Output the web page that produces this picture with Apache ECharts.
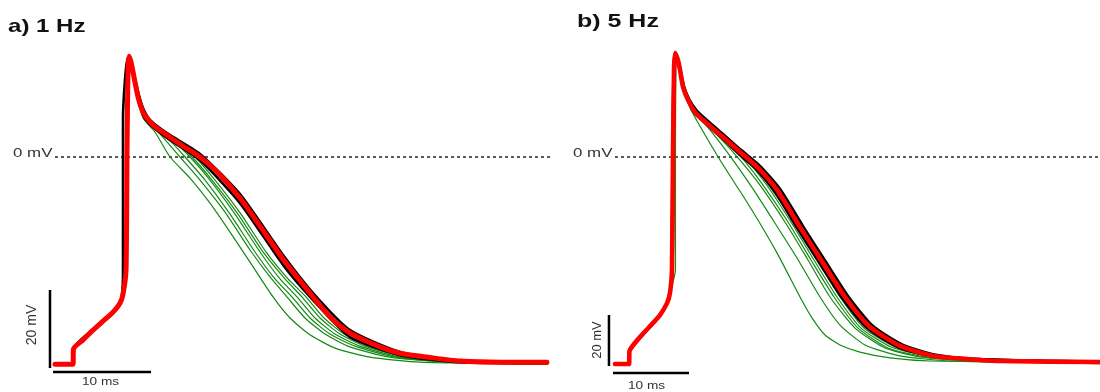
<!DOCTYPE html>
<html>
<head>
<meta charset="utf-8">
<script src="https://cdn.jsdelivr.net/npm/echarts/dist/echarts.min.js"></script>
<style>
  html, body { margin: 0; padding: 0; background: #ffffff; }
  #chart { width: 1100px; height: 392px; }
</style>
</head>
<body>
<div id="chart"></div>
<script>
// Action potential traces: each point is [time (ms), membrane potential (mV)].

// ---- a) 1 Hz pacing ----
const red1Hz = [[1.53,-53.0],[3.37,-53.0],[3.42,-49.1],[4.39,-46.8],[5.41,-44.3],[6.43,-42.0],[7.45,-39.7],[8.16,-37.4],[8.47,-35.1],[8.78,-28.9],[8.88,1.8],[8.98,22.3],[9.08,25.8],[9.29,24.3],[9.59,20.5],[10.0,15.4],[10.51,11.5],[11.22,9.0],[12.04,7.2],[12.96,5.6],[14.59,2.8],[16.33,0],[18.06,-3.8],[20.41,-10.5],[22.45,-17.7],[24.8,-26.1],[27.86,-35.8],[29.9,-41.7],[31.63,-45.0],[34.69,-48.6],[36.73,-50.2],[40.1,-51.4],[42.86,-52.2],[46.94,-52.5],[51.73,-52.5]];
const blackA1Hz = [[1.53,-53.0],[3.37,-53.0],[3.42,-49.4],[5.41,-44.5],[7.45,-40.0],[8.16,-37.6],[8.37,-35.3],[8.47,-30.0],[8.47,10.0],[8.93,25.4],[9.29,23.3],[9.59,19.5],[10.0,14.8],[10.51,10.7],[11.22,8.3],[12.96,4.9],[16.33,-0.8],[20.41,-11.8],[24.8,-27.6],[27.86,-36.6],[31.63,-46.1],[36.73,-50.7],[42.86,-52.5],[51.73,-52.7]];
const blackB1Hz = [[1.53,-53.0],[3.37,-53.0],[3.42,-49.0],[5.41,-44.1],[7.45,-39.5],[8.16,-37.2],[8.47,-34.8],[8.78,-30.0],[8.9,10.0],[9.0,24.0],[9.12,26.0],[9.35,24.2],[9.7,20.0],[10.1,15.8],[10.6,12.0],[11.22,9.5],[12.96,6.1],[16.33,0.8],[20.41,-9.5],[24.8,-25.1],[27.86,-34.8],[31.63,-44.3],[36.73,-49.9],[42.86,-52.2],[51.73,-52.5]];
const greenA1Hz = [[9.08,25.6],[9.29,23.3],[9.69,19.2],[10.1,14.6],[10.51,10.0],[11.73,6.4],[13.27,0],[15.31,-5.4],[17.35,-11.8],[19.39,-19.2],[21.43,-26.9],[23.78,-35.8],[25.51,-41.2],[27.55,-45.5],[30.1,-48.9],[33.67,-51.2],[38.78,-52.5],[51.73,-53.0]];
const greenB1Hz = [[9.08,25.6],[9.29,23.5],[9.69,19.5],[10.1,15.0],[10.51,10.5],[12.24,5.9],[14.29,0],[16.33,-5.9],[18.88,-14.1],[21.43,-23.8],[23.47,-30.7],[25.2,-35.8],[27.04,-41.2],[29.08,-45.3],[31.63,-48.6],[35.71,-51.2],[41.84,-52.5],[51.73,-53.0]];
const greenC1Hz = [[9.08,25.6],[9.29,23.5],[9.69,19.5],[10.1,15.0],[10.71,10.5],[12.76,5.6],[14.8,0],[16.84,-5.9],[19.39,-14.6],[21.94,-24.3],[23.98,-31.2],[25.71,-35.8],[27.55,-41.2],[29.59,-45.3],[32.14,-48.4],[36.22,-51.2],[41.84,-52.5],[51.73,-53.0]];
const greenD1Hz = [[9.08,25.6],[9.29,23.6],[9.69,19.6],[10.1,15.1],[11.22,9.0],[13.27,4.9],[15.31,0],[17.35,-5.9],[19.9,-14.6],[22.45,-24.3],[24.49,-31.2],[26.22,-35.8],[28.06,-41.2],[30.1,-45.3],[32.65,-48.4],[36.73,-51.2],[42.35,-52.5],[51.73,-53.0]];
const greenE1Hz = [[9.08,25.6],[9.29,23.6],[9.69,19.7],[10.1,15.2],[11.22,8.7],[13.47,4.6],[15.51,0],[17.55,-5.9],[20.2,-14.6],[22.76,-24.3],[25.0,-31.2],[26.73,-35.8],[28.57,-41.2],[30.61,-45.3],[33.16,-48.4],[37.24,-51.2],[42.86,-52.5],[51.73,-53.0]];
const greenF1Hz = [[9.08,25.6],[9.29,23.6],[9.69,19.7],[10.1,15.2],[11.43,8.4],[13.78,4.4],[15.82,0],[17.86,-5.9],[20.51,-14.6],[23.06,-24.3],[25.31,-31.2],[27.14,-35.8],[28.98,-41.2],[31.02,-45.3],[33.67,-48.4],[37.76,-51.2],[43.37,-52.5],[51.73,-53.0]];

// ---- b) 5 Hz pacing ----
const red5Hz = [[1.97,-81.2],[3.82,-81.2],[3.88,-76.1],[5.26,-70.6],[6.97,-65.1],[7.89,-62.0],[8.82,-57.3],[9.21,-53.3],[9.47,-44.3],[9.61,2.7],[9.74,34.1],[9.87,40.8],[10.26,38.0],[10.53,34.1],[10.92,27.5],[11.58,22.4],[12.5,17.6],[13.55,14.5],[16.18,7.8],[18.42,2.0],[20.66,-3.9],[23.29,-12.9],[26.32,-27.5],[29.34,-41.6],[32.24,-54.9],[35.53,-66.7],[39.47,-74.1],[43.82,-78.0],[48.29,-79.2],[52.63,-80.0],[65.79,-80.4]];
const blackA5Hz = [[1.97,-81.2],[3.82,-81.2],[3.88,-76.1],[5.26,-70.6],[6.97,-65.1],[7.89,-62.0],[8.82,-57.3],[9.21,-53.3],[9.54,-44.3],[9.67,2.7],[9.8,34.0],[9.93,41.2],[10.53,34.9],[11.05,27.8],[11.71,22.8],[12.63,18.6],[13.68,15.5],[16.18,9.0],[18.42,3.1],[21.05,-3.5],[23.68,-12.5],[26.71,-27.1],[29.74,-41.2],[32.63,-54.5],[35.92,-66.3],[39.87,-73.7],[44.21,-77.6],[48.68,-79.2],[65.79,-80.2]];
const blackB5Hz = [[1.97,-81.2],[3.82,-81.2],[3.88,-76.6],[5.26,-71.0],[6.97,-65.5],[8.82,-57.7],[9.21,-53.7],[9.41,-44.0],[9.54,3.0],[9.67,34.0],[9.8,40.4],[10.26,37.6],[10.92,27.1],[11.58,21.8],[12.5,17.0],[13.55,14.1],[16.18,7.1],[18.42,0.8],[20.39,-4.3],[23.03,-13.7],[25.92,-27.8],[28.95,-42.0],[31.84,-55.3],[35.13,-67.1],[39.47,-74.9],[44.21,-78.4],[65.79,-80.8]];
const greenA5Hz = [[9.87,40.8],[10.53,34.1],[10.92,27.5],[11.58,22.0],[11.97,18.4],[15.79,-1.2],[19.74,-19.6],[23.29,-37.6],[26.32,-54.9],[27.89,-63.1],[29.61,-69.8],[31.58,-73.7],[34.21,-76.5],[38.16,-78.8],[43.42,-80.0],[65.79,-80.8]];
const greenB5Hz = [[9.87,40.8],[10.53,34.1],[10.92,27.5],[11.58,22.0],[12.5,17.2],[14.47,10.6],[17.5,-1.2],[20.13,-12.5],[22.76,-24.7],[25.92,-39.6],[28.95,-54.9],[31.58,-65.9],[34.87,-73.7],[39.47,-78.0],[46.05,-80.0],[65.79,-80.8]];
const greenC5Hz = [[8.82,-57.3],[9.21,-53.3],[9.93,-44.3],[9.93,2.7],[10.0,38.0],[10.13,40.0],[10.53,34.5],[10.92,27.9],[11.58,22.2],[13.16,15.3],[15.79,7.5],[18.42,-1.2],[21.05,-11.0],[24.34,-25.5],[27.37,-40.4],[30.26,-54.9],[33.55,-67.1],[37.5,-74.9],[42.11,-78.4],[48.68,-80.0],[65.79,-80.8]];
const greenD5Hz = [[9.87,40.8],[10.53,34.1],[10.92,27.5],[11.58,22.0],[13.16,15.7],[16.05,7.8],[18.82,-0.8],[21.45,-11.0],[24.74,-25.5],[27.76,-40.4],[30.79,-54.9],[33.95,-67.1],[37.89,-74.9],[42.76,-78.4],[49.34,-80.0],[65.79,-80.8]];
const greenE5Hz = [[9.87,40.8],[10.53,34.1],[10.92,27.5],[11.58,22.0],[13.16,16.1],[16.32,8.2],[19.21,-0.8],[21.84,-10.6],[25.13,-25.5],[28.16,-40.4],[31.18,-54.9],[34.34,-67.1],[38.29,-74.5],[43.16,-78.0],[50.0,-79.6],[65.79,-80.8]];
const greenF5Hz = [[9.87,40.8],[10.53,34.1],[10.92,27.5],[11.58,22.0],[13.55,15.3],[16.45,7.1],[19.74,-2.0],[22.37,-11.8],[25.66,-25.9],[28.68,-40.8],[31.58,-54.9],[34.74,-67.1],[38.82,-74.5],[44.21,-78.4],[52.63,-80.0],[65.79,-80.8]];

// 0 mV reference line spans (ms)
const zeroSpan1Hz = [1.53, 52.35];
const zeroSpan5Hz = [1.97, 65.79];

// Scale bars: size in mV and ms, anchored at [ms, mV]
const scaleMv = 20;
const scaleMs = 10;
const barAnchor1Hz = { vert: [1.02, -54], horiz: [1.33, -55] };
const barAnchor5Hz = { vert: [1.18, -82], horiz: [1.71, -84.7] };

const panelTitles = ['a) 1 Hz', 'b) 5 Hz'];

const GREEN = '#138a13';

function trace(data, panel, color, width, z) {
  return {
    type: 'line', xAxisIndex: panel, yAxisIndex: panel, data: data,
    showSymbol: false, symbol: 'none', smooth: 0.2,
    silent: true, animation: false, z: z,
    lineStyle: { color: color, width: width, cap: 'round', join: 'round' }
  };
}
function zeroLine(span, panel) {
  return {
    type: 'line', xAxisIndex: panel, yAxisIndex: panel,
    data: [[span[0], 0], [span[1], 0]], showSymbol: false, symbol: 'none',
    silent: true, animation: false, z: 1,
    lineStyle: { color: '#000', width: 1.3, type: [3, 3] }
  };
}
function scaleBar(anchor, panel) {
  const v = anchor.vert, h = anchor.horiz;
  return [
    { data: [[v[0], v[1]], [v[0], v[1] + scaleMv]] },
    { data: [[h[0], h[1]], [h[0] + scaleMs, h[1]]] }
  ].map(s => ({
    type: 'line', xAxisIndex: panel, yAxisIndex: panel, data: s.data,
    showSymbol: false, symbol: 'none', silent: true, animation: false, z: 5,
    lineStyle: { color: '#000', width: 2.5, cap: 'butt' }
  }));
}

const greens1Hz = [greenA1Hz, greenB1Hz, greenC1Hz, greenD1Hz, greenE1Hz, greenF1Hz];
const blacks1Hz = [blackA1Hz, blackB1Hz];
const greens5Hz = [greenA5Hz, greenB5Hz, greenC5Hz, greenD5Hz, greenE5Hz, greenF5Hz];
const blacks5Hz = [blackA5Hz, blackB5Hz];

const series = [
  zeroLine(zeroSpan1Hz, 0), zeroLine(zeroSpan5Hz, 1),
  ...greens1Hz.map(d => trace(d, 0, GREEN, 1.2, 2)),
  ...greens5Hz.map(d => trace(d, 1, GREEN, 1.2, 2)),
  ...blacks1Hz.map(d => trace(d, 0, '#000', 2.6, 3)),
  ...blacks5Hz.map(d => trace(d, 1, '#000', 2.6, 3)),
  trace(red1Hz, 0, '#ff0000', 5, 4),
  trace(red5Hz, 1, '#ff0000', 4.6, 4),
  ...scaleBar(barAnchor1Hz, 0),
  ...scaleBar(barAnchor5Hz, 1)
];

const axisOff = { type: 'value', show: false, splitLine: { show: false } };

const labelFont = '"Liberation Sans", Arial, sans-serif';
function txt(x, y, text, size, opts) {
  opts = opts || {};
  return {
    type: 'text', x: x, y: y, silent: true,
    scaleX: opts.scaleX || 1, rotation: opts.rotation || 0,
    style: {
      text: text, fill: opts.fill || '#333',
      font: (opts.bold ? 'bold ' : '') + size + 'px ' + labelFont,
      align: opts.align || 'left', verticalAlign: 'middle'
    }
  };
}

const option = {
  backgroundColor: '#ffffff',
  animation: false,
  grid: [
    { left: 40, top: 40, width: 520, height: 340 },
    { left: 600, top: 40, width: 500, height: 340 }
  ],
  xAxis: [
    Object.assign({ gridIndex: 0, min: 0, max: 520 / 9.8 }, axisOff),
    Object.assign({ gridIndex: 1, min: 0, max: 500 / 7.6 }, axisOff)
  ],
  yAxis: [
    Object.assign({ gridIndex: 0, min: 29.94 - 340 / 3.908, max: 29.94 }, axisOff),
    Object.assign({ gridIndex: 1, min: 45.88 - 340 / 2.55, max: 45.88 }, axisOff)
  ],
  series: series,
  graphic: [
    txt(8, 27, panelTitles[0], 18.5, { bold: true, scaleX: 1.3, fill: '#111' }),
    txt(577, 22, panelTitles[1], 18.5, { bold: true, scaleX: 1.35, fill: '#111' }),
    txt(13, 154, '0 mV', 12.5, { scaleX: 1.35 }),
    txt(573, 154, '0 mV', 12.5, { scaleX: 1.35 }),
    txt(32, 325, scaleMv + ' mV', 14, { align: 'center', rotation: Math.PI / 2 }),
    txt(597, 340, scaleMv + ' mV', 13, { align: 'center', rotation: Math.PI / 2 }),
    txt(82, 382, scaleMs + ' ms', 10.5, { scaleX: 1.3 }),
    txt(628, 386, scaleMs + ' ms', 10.5, { scaleX: 1.3 })
  ]
};

const chart = echarts.init(document.getElementById('chart'), null, { renderer: 'canvas' });
chart.setOption(option);
</script>
</body>
</html>
